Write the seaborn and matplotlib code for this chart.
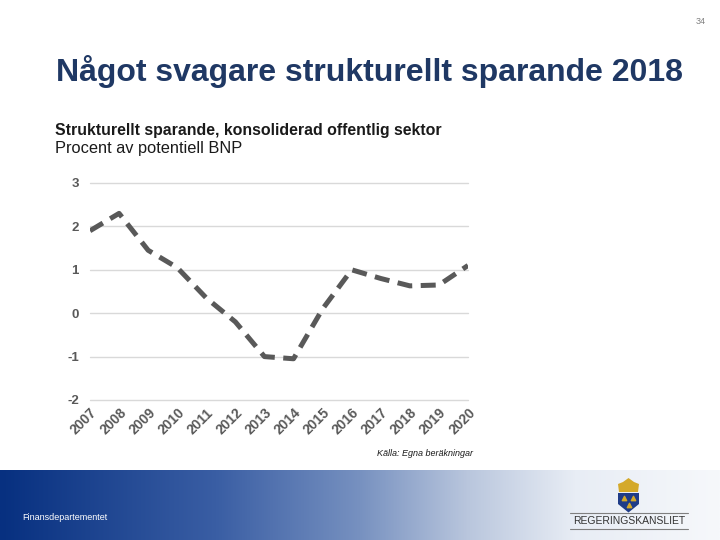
import numpy as np
import matplotlib
matplotlib.use("Agg")
import matplotlib.pyplot as plt
import seaborn as sns
from matplotlib.colors import LinearSegmentedColormap
from matplotlib.patches import Polygon

# Data
years = [2007, 2008, 2009, 2010, 2011, 2012, 2013, 2014, 2015, 2016, 2017, 2018, 2019, 2020]
sparande = [1.9, 2.3, 1.45, 1.05, 0.35, -0.2, -1.0, -1.05, 0.1, 1.0, 0.8, 0.63, 0.65, 1.1]
yticks = [-2, -1, 0, 1, 2, 3]

sns.set_theme(style="white")
plt.rcParams['font.family'] = ['Liberation Sans', 'DejaVu Sans']

fig = plt.figure(figsize=(7.2, 5.4), dpi=100)

# Rubriker
fig.text(706 / 720, 1 - 22 / 540, "34", ha="right", va="center", fontsize=6.5, color="#7f7f7f")
fig.text(56 / 720, 1 - 72 / 540, "Något svagare strukturellt sparande 2018", ha="left", va="center",
         fontsize=23, fontweight="bold", color="#1f3864")
fig.text(55 / 720, 1 - 131 / 540, "Strukturellt sparande, konsoliderad offentlig sektor", ha="left",
         va="center", fontsize=11.4, fontweight="bold", color="#1a1a1a")
fig.text(55 / 720, 1 - 149 / 540, "Procent av potentiell BNP", ha="left", va="center",
         fontsize=11.8, color="#1a1a1a")

# Diagram
ax = fig.add_axes([90 / 720, 1 - 400 / 540, 378 / 720, 217 / 540])
sns.lineplot(x=years, y=sparande, ax=ax, color="#595959", linewidth=3.6, zorder=3)
ax.lines[0].set_dashes([3.0, 1.7])
ax.set_xlim(years[0], years[-1])
ax.set_ylim(-2, 3)
ax.set_yticks(yticks)
ax.set_yticklabels([str(t) for t in yticks])
ax.set_xticks(years)
ax.set_xticklabels([str(y) for y in years], rotation=45, ha="right", rotation_mode="anchor")
# stödlinjer (även vid -2, som annars klipps bort)
ax.grid(False)
for t in yticks:
    ax.axhline(t, color="#d9d9d9", linewidth=1, clip_on=False, zorder=1)
for s in ax.spines.values():
    s.set_visible(False)
ax.tick_params(axis="y", length=0, pad=8, labelsize=9.5, labelcolor="#595959")
ax.tick_params(axis="x", length=0, pad=4, labelsize=10, labelcolor="#595959")
for lab in ax.get_xticklabels() + ax.get_yticklabels():
    lab.set_fontweight("bold")

fig.text(377 / 720, 1 - 453 / 540, "Källa: Egna beräkningar", ha="left", va="center",
         fontsize=6.5, style="italic", color="#1a1a1a")

# Sidfot med gradient
cmap = LinearSegmentedColormap.from_list(
    "band", [(0, "#073080"), (0.3, "#3a5ea4"), (0.5, "#7791c0"), (0.65, "#b9c6dd"),
             (0.8, "#e8edf5"), (1, "#f6f8fb")])
fax = fig.add_axes([0, 0, 1, 70 / 540])
fax.imshow(np.linspace(0, 1, 256)[None, :], aspect="auto", cmap=cmap, extent=[0, 720, 0, 70])
fax.set_xlim(0, 720)
fax.set_ylim(0, 70)
fax.axis("off")
fax.text(22, 23, "Finansdepartementet", ha="left", va="center", fontsize=6.5, color="white")

# Logotyp
fax.plot([570, 688], [27, 27], color="#7f7f7f", linewidth=0.8)
fax.plot([570, 688], [11, 11], color="#7f7f7f", linewidth=0.8)
fax.text(629, 19, "REGERINGSKANSLIET", ha="center", va="center", fontsize=7.5, color="#333333")
shield = Polygon([[618, 47], [639, 47], [639, 36], [628.5, 27.5], [618, 36]], closed=True,
                 facecolor="#1f3c88", edgecolor="none")
fax.add_patch(shield)
crown = Polygon([[619, 48], [638, 48], [639, 56], [634, 58], [628.5, 62], [623, 58], [618, 56]],
                closed=True, facecolor="#d4a92a", edgecolor="none")
fax.add_patch(crown)
fax.scatter([624, 633, 628.5], [42, 42, 35], marker="^", s=10, color="#d4a92a")

fig.savefig("out.png", dpi=100)
